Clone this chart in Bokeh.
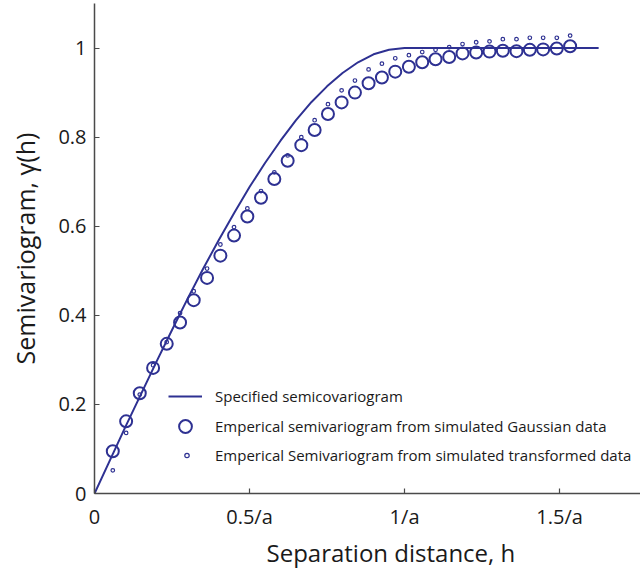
from bokeh.plotting import figure
from bokeh.models import Legend, LegendItem, Range1d, FixedTicker, Title
from bokeh.embed import file_html
from bokeh.resources import INLINE

# Specified semicovariogram
h_model = [0.0, 0.05, 0.10, 0.15, 0.20, 0.25, 0.30, 0.35, 0.40, 0.45, 0.50,
           0.55, 0.60, 0.65, 0.70, 0.75, 0.80, 0.85, 0.90, 0.95, 1.00, 1.626]
g_model = [0.0, 0.075, 0.150, 0.223, 0.296, 0.367, 0.437, 0.504, 0.568, 0.629, 0.688,
           0.742, 0.792, 0.838, 0.879, 0.914, 0.944, 0.968, 0.986, 0.996, 1.000, 1.000]

# lag distances (in units of 1/a)
h_lag = [0.059, 0.102, 0.146, 0.189, 0.233, 0.276, 0.320, 0.363, 0.406, 0.450,
         0.493, 0.537, 0.580, 0.623, 0.667, 0.710, 0.753, 0.797, 0.840, 0.884,
         0.927, 0.970, 1.014, 1.057, 1.100, 1.144, 1.187, 1.231, 1.274, 1.317,
         1.361, 1.404, 1.447, 1.491, 1.534]

# Empirical semivariogram from simulated Gaussian data
g_gauss = [0.095, 0.162, 0.225, 0.282, 0.336, 0.384, 0.434, 0.484, 0.534, 0.579,
           0.622, 0.664, 0.706, 0.747, 0.782, 0.816, 0.852, 0.878, 0.900, 0.921,
           0.934, 0.947, 0.958, 0.968, 0.975, 0.980, 0.988, 0.990, 0.992, 0.994,
           0.993, 0.996, 0.997, 0.999, 1.004]

# Empirical semivariogram from simulated transformed data
g_trans = [0.052, 0.136, 0.222, 0.288, 0.340, 0.405, 0.454, 0.505, 0.559, 0.598,
           0.640, 0.679, 0.721, 0.759, 0.800, 0.838, 0.874, 0.905, 0.927, 0.952,
           0.965, 0.977, 0.984, 0.991, 0.996, 1.002, 1.009, 1.013, 1.015, 1.020,
           1.020, 1.023, 1.023, 1.023, 1.028]

x_ticks = [0, 0.5, 1.0, 1.5]
x_tick_labels = ["0", "0.5/a", "1/a", "1.5/a"]
y_ticks = [0, 0.2, 0.4, 0.6, 0.8, 1.0]
y_tick_labels = ["0", "0.2", "0.4", "0.6", "0.8", "1"]

labels = ["Specified semicovariogram",
          "Emperical semivariogram from simulated Gaussian data",
          "Emperical Semivariogram from simulated transformed data"]
x_title = "Separation distance, h"
y_title = "Semivariogram, \u03b3(h)"

BLUE = "#2e3192"
AX = "#4a4a4a"
TXT = "#1a1a1a"
FONT = "Open Sans"

p = figure(width=640, height=571, frame_width=546, frame_height=490,
           min_border_left=94, min_border_right=0, min_border_top=3, min_border_bottom=78,
           output_backend="svg", toolbar_location=None,
           x_range=Range1d(0, 1.761), y_range=Range1d(0, 1.1))
p.outline_line_color = None
p.xgrid.visible = False
p.ygrid.visible = False
p.background_fill_color = "white"
p.border_fill_color = "white"

r_line = p.line(h_model, g_model, line_color=BLUE, line_width=2)
r_gauss = p.scatter(h_lag, g_gauss, marker="circle", size=12, fill_color=None,
                    line_color=BLUE, line_width=2)
r_trans = p.scatter(h_lag, g_trans, marker="circle", size=3.6, fill_color=None,
                    line_color=BLUE, line_width=1.2)

for ax in (p.xaxis[0], p.yaxis[0]):
    ax.axis_line_color = AX
    ax.axis_line_width = 1.5
    ax.major_tick_line_color = AX
    ax.major_tick_line_width = 1.2
    ax.major_tick_in = 5
    ax.major_tick_out = 0
    ax.minor_tick_line_color = None
    ax.major_label_text_font = FONT
    ax.major_label_text_font_size = "20px"
    ax.major_label_text_color = TXT
    ax.axis_label_text_font = FONT
    ax.axis_label_text_font_size = "25px"
    ax.axis_label_text_font_style = "normal"
    ax.axis_label_text_color = TXT

p.xaxis.ticker = FixedTicker(ticks=x_ticks)
p.xaxis.major_label_overrides = dict(zip(x_ticks, x_tick_labels))
p.yaxis.ticker = FixedTicker(ticks=y_ticks)
p.yaxis.major_label_overrides = dict(zip(y_ticks, y_tick_labels))
p.yaxis.axis_label = y_title
p.xaxis.major_label_standoff = 9
p.yaxis.major_label_standoff = 8
p.yaxis.axis_label_standoff = 13

# x-axis title (shifted right as in the reference)
p.add_layout(Title(text=x_title, align="left", offset=172, standoff=3,
                   text_font=FONT, text_font_size="24px", text_font_style="normal",
                   text_color=TXT), "below")


def make_legend(item, loc, gw, gh, standoff):
    lg = Legend(items=[item], location=loc, glyph_width=gw, glyph_height=gh,
                label_height=gh, label_standoff=standoff, padding=0, margin=0,
                spacing=0, border_line_color=None, background_fill_alpha=0,
                label_text_font=FONT, label_text_font_size="15px",
                label_text_color=TXT)
    p.add_layout(lg, "center")


make_legend(LegendItem(label=labels[0], renderers=[r_line]), (74, 87), 34, 20, 13)
make_legend(LegendItem(label=labels[1], renderers=[r_gauss]), (75, 51), 32, 32, 14)
make_legend(LegendItem(label=labels[2], renderers=[r_trans]), (87, 28), 11, 20, 23)

open("out.html", "w").write(file_html(p, INLINE))
